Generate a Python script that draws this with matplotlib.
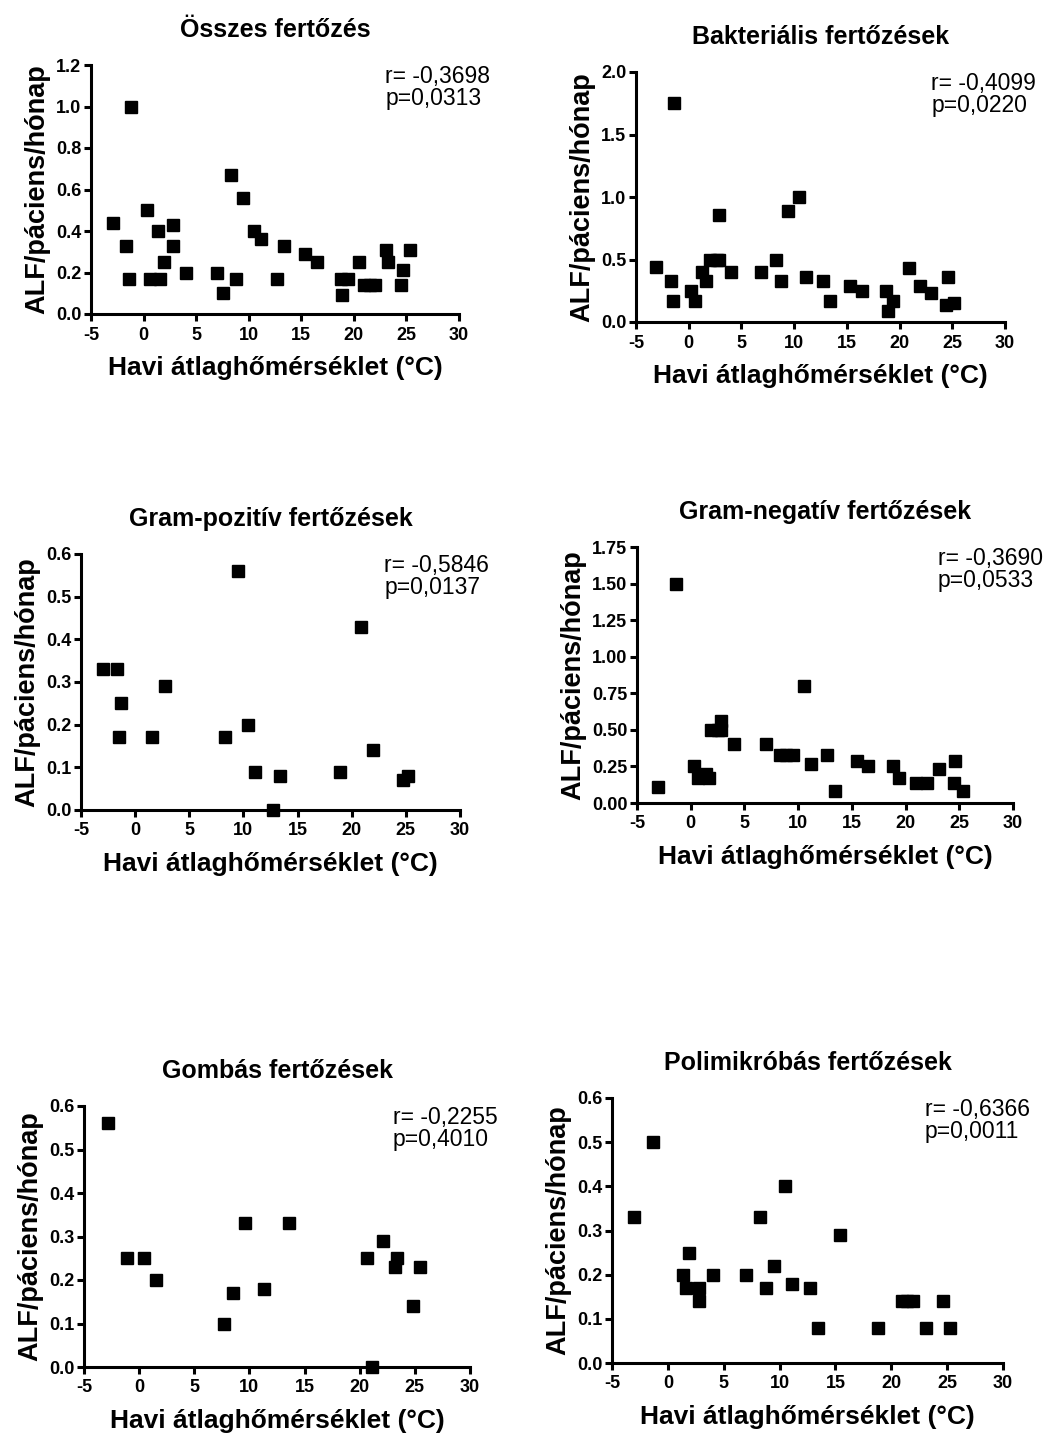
import matplotlib
matplotlib.use('Agg')
import matplotlib.pyplot as plt
from matplotlib.ticker import FormatStrFormatter

plt.rcParams['font.family'] = ['Liberation Sans', 'DejaVu Sans']
plt.rcParams['axes.unicode_minus'] = False

# Összes fertőzés
temp_osszes = [-2.9, -1.2, -1.7, -1.4, 0.3, 0.6, 1.4, 1.6, 1.9, 2.8, 2.8, 4.0, 7.0, 7.6, 8.3, 8.8,
               9.5, 10.5, 11.2, 12.7, 13.4, 15.4, 16.5, 18.8, 19.4, 18.9, 20.5, 21.0, 21.5, 22.0,
               23.1, 23.2, 24.5, 24.7, 25.3]
alf_osszes = [0.44, 1.0, 0.33, 0.17, 0.5, 0.17, 0.40, 0.17, 0.25, 0.43, 0.33, 0.20, 0.20, 0.10, 0.67, 0.17,
              0.56, 0.40, 0.36, 0.17, 0.33, 0.29, 0.25, 0.17, 0.17, 0.09, 0.25, 0.14, 0.14, 0.14,
              0.31, 0.25, 0.14, 0.21, 0.31]

# Bakteriális fertőzések
temp_bakt = [-3.1, -1.7, -1.4, -1.5, 0.25, 0.55, 1.3, 1.6, 2.0, 2.7, 2.85, 2.9, 4.0, 6.9, 8.3, 8.8,
             9.4, 10.5, 11.1, 12.7, 13.4, 15.3, 16.4, 18.7, 18.9, 19.4, 20.9, 21.9, 23.0, 24.4,
             24.6, 25.2]
alf_bakt = [0.44, 0.33, 1.75, 0.17, 0.25, 0.17, 0.40, 0.33, 0.50, 0.50, 0.86, 0.50, 0.40, 0.40, 0.50, 0.33,
            0.89, 1.0, 0.36, 0.33, 0.17, 0.29, 0.25, 0.25, 0.09, 0.17, 0.43, 0.29, 0.23, 0.14,
            0.36, 0.15]

# Gram-pozitív fertőzések
temp_gpos = [-3.0, -1.7, -1.3, -1.5, 1.55, 2.75, 8.3, 9.5, 10.4, 11.1, 12.7, 13.4, 18.9, 20.9, 22.0,
             24.7, 25.2]
alf_gpos = [0.33, 0.33, 0.25, 0.17, 0.17, 0.29, 0.17, 0.56, 0.20, 0.09, 0.0, 0.08, 0.09, 0.43, 0.14,
            0.07, 0.08]

# Gram-negatív fertőzések
temp_gneg = [-3.05, -1.4, 0.3, 0.7, 1.4, 1.7, 1.9, 2.5, 2.8, 2.8, 4.0, 7.0, 8.3, 8.9, 9.5, 10.5,
             11.2, 12.7, 13.4, 15.5, 16.5, 18.8, 19.4, 21.0, 22.0, 23.1, 24.6, 24.5, 25.3]
alf_gneg = [0.11, 1.50, 0.25, 0.17, 0.20, 0.17, 0.50, 0.50, 0.56, 0.50, 0.40, 0.40, 0.33, 0.33, 0.33, 0.80,
            0.27, 0.33, 0.08, 0.29, 0.25, 0.25, 0.17, 0.14, 0.14, 0.23, 0.29, 0.14, 0.08]

# Gombás fertőzések
temp_gomba = [-2.85, -1.1, 0.45, 1.55, 7.7, 8.5, 9.6, 11.35, 13.6, 20.7, 21.1, 22.1, 23.4, 23.2,
              24.8, 25.5]
alf_gomba = [0.56, 0.25, 0.25, 0.20, 0.10, 0.17, 0.33, 0.18, 0.33, 0.25, 0.0, 0.29, 0.25, 0.23,
             0.14, 0.23]

# Polimikróbás fertőzések
temp_poli = [-3.0, -1.3, 1.9, 1.4, 1.6, 2.8, 2.8, 4.0, 7.0, 8.25, 8.8, 9.5, 10.5, 11.15, 12.7,
             13.4, 15.4, 18.8, 21.0, 21.45, 21.95, 23.1, 24.65, 25.25]
alf_poli = [0.33, 0.50, 0.25, 0.20, 0.17, 0.17, 0.14, 0.20, 0.20, 0.33, 0.17, 0.22, 0.40, 0.18, 0.17,
            0.08, 0.29, 0.08, 0.14, 0.14, 0.14, 0.08, 0.14, 0.08]

titles = ['Összes fertőzés', 'Bakteriális fertőzések', 'Gram-pozitív fertőzések',
          'Gram-negatív fertőzések', 'Gombás fertőzések', 'Polimikróbás fertőzések']
r_values = ['-0,3698', '-0,4099', '-0,5846', '-0,3690', '-0,2255', '-0,6366']
p_values = ['0,0313', '0,0220', '0,0137', '0,0533', '0,4010', '0,0011']
xs = [temp_osszes, temp_bakt, temp_gpos, temp_gneg, temp_gomba, temp_poli]
ys = [alf_osszes, alf_bakt, alf_gpos, alf_gneg, alf_gomba, alf_poli]
ymax = [1.2, 2.0, 0.6, 1.75, 0.6, 0.6]
ystep = [0.2, 0.5, 0.1, 0.25, 0.1, 0.1]
yfmt = ['%.1f', '%.1f', '%.1f', '%.2f', '%.1f', '%.1f']

W, H = 1062, 1439
# axes boxes in pixels: left, top, right, bottom
boxes = [(91, 65, 459, 314), (636, 72, 1005, 322), (81, 554, 460, 810),
         (637, 547, 1013, 803), (84, 1106, 470, 1367), (612, 1098, 1003, 1363)]

fig = plt.figure(figsize=(W / 100, H / 100), dpi=100)

for i in range(6):
    l, t, r, b = boxes[i]
    ax = fig.add_axes([l / W, 1 - b / H, (r - l) / W, (b - t) / H])
    ax.plot(xs[i], ys[i], 's', color='black', markersize=8.6, clip_on=False)
    ax.set_xlim(-5, 30)
    ax.set_ylim(0, ymax[i])
    ax.set_xticks(range(-5, 31, 5))
    n = int(round(ymax[i] / ystep[i]))
    ax.set_yticks([k * ystep[i] for k in range(n + 1)])
    ax.yaxis.set_major_formatter(FormatStrFormatter(yfmt[i]))
    for s in ['top', 'right']:
        ax.spines[s].set_visible(False)
    for s in ['left', 'bottom']:
        ax.spines[s].set_linewidth(2.2)
    ax.tick_params(direction='out', length=5, width=2.2, labelsize=13, pad=2)
    ax.tick_params(axis='x', pad=4)
    for lab in ax.get_xticklabels() + ax.get_yticklabels():
        lab.set_fontweight('bold')
    ax.set_title(titles[i], fontsize=18, fontweight='bold', pad=20)
    ax.set_xlabel('Havi átlaghőmérséklet (°C)', fontsize=19, fontweight='bold', labelpad=9)
    ax.set_ylabel('ALF/páciens/hónap', fontsize=19.5, fontweight='bold', labelpad=4)
    ax.text(0.80, 1.0, 'r= ' + r_values[i] + '\np=' + p_values[i], transform=ax.transAxes,
            ha='left', va='top', fontsize=16.5, linespacing=0.95)

fig.savefig('out.png', dpi=100, facecolor='white')
